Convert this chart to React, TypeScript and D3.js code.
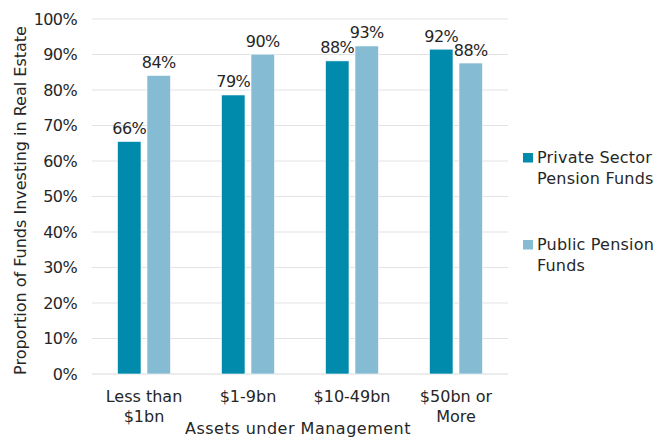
import React from "react";
import * as d3 from "d3";

const categories = [["Less than", "$1bn"], ["$1-9bn"], ["$10-49bn"], ["$50bn or", "More"]];
const privateValues = [65.5, 78.6, 88.2, 91.5];
const publicValues = [84.1, 90.1, 92.4, 87.6];
const privateLabels = ["66%", "79%", "88%", "92%"];
const publicLabels = ["84%", "90%", "93%", "88%"];
const seriesNames = [["Private Sector", "Pension Funds"], ["Public Pension", "Funds"]];
const yTicks = [0, 10, 20, 30, 40, 50, 60, 70, 80, 90, 100];

const W = 659, H = 439;
const left = 92, right = 508, top = 19, bottom = 374;
const colors = ["#008BAD", "#86BBD4"];
const font = "'DejaVu Sans', sans-serif";
const textColor = "#262626";
const fs = 16;

export default function App() {
  const x = d3.scaleBand<number>().domain(d3.range(categories.length)).range([left, right]);
  const y = d3.scaleLinear().domain([0, 100]).range([bottom, top]);
  const barW = 23.5;
  const gap = 6;
  const series = [
    { values: privateValues, labels: privateLabels },
    { values: publicValues, labels: publicLabels },
  ];
  return (
    <svg width={W} height={H} style={{ position: "absolute", left: 0, top: 0, background: "#fff" }}
      fontFamily={font}>
      {yTicks.map((t) => (
        <g key={t}>
          <line x1={left} x2={right} y1={y(t)} y2={y(t)} stroke={t === 0 ? "#d9d9d9" : "#e3e3e3"} strokeWidth={1} />
          <text x={77} y={y(t)} dy="0.36em" textAnchor="end" fontSize={fs} fill={textColor} letterSpacing={-0.6}>
            {t}%
          </text>
        </g>
      ))}
      {series.map((s, si) =>
        s.values.map((v, i) => {
          const cx = x(i)! + x.bandwidth() / 2;
          const bx = si === 0 ? cx - gap / 2 - barW : cx + gap / 2;
          return (
            <g key={`${si}-${i}`}>
              <rect x={bx} y={y(v)} width={barW} height={bottom - y(v)} fill={colors[si]} stroke="#fff" strokeWidth={0.6} />
              <text x={bx + barW / 2} y={y(v) - 7.5} textAnchor="middle" fontSize={fs} fill={textColor} letterSpacing={-0.6}>
                {s.labels[i]}
              </text>
            </g>
          );
        })
      )}
      {categories.map((c, i) => (
        <text key={i} x={x(i)! + x.bandwidth() / 2} y={402} textAnchor="middle" fontSize={fs} fill={textColor} letterSpacing={0}>
          {c.map((line, li) => (
            <tspan key={li} x={x(i)! + x.bandwidth() / 2} dy={li === 0 ? 0 : 20}>{line}</tspan>
          ))}
        </text>
      ))}
      <text x={298} y={434} textAnchor="middle" fontSize={fs} fill={textColor} letterSpacing={0.5}>
        Assets under Management
      </text>
      <text transform={`translate(26, ${200.5}) rotate(-90)`} textAnchor="middle" fontSize={fs} fill={textColor} letterSpacing={0}>
        Proportion of Funds Investing in Real Estate
      </text>
      {seriesNames.map((n, si) => {
        const base = si === 0 ? 163 : 250;
        return (
          <g key={si}>
            <rect x={523} y={base - 10} width={10} height={9.5} fill={colors[si]} />
            <text x={537} y={base} fontSize={fs} fill={textColor} letterSpacing={0.2}>
              {n.map((line, li) => (
                <tspan key={li} x={537} dy={li === 0 ? 0 : 20.5}>{line}</tspan>
              ))}
            </text>
          </g>
        );
      })}
    </svg>
  );
}
